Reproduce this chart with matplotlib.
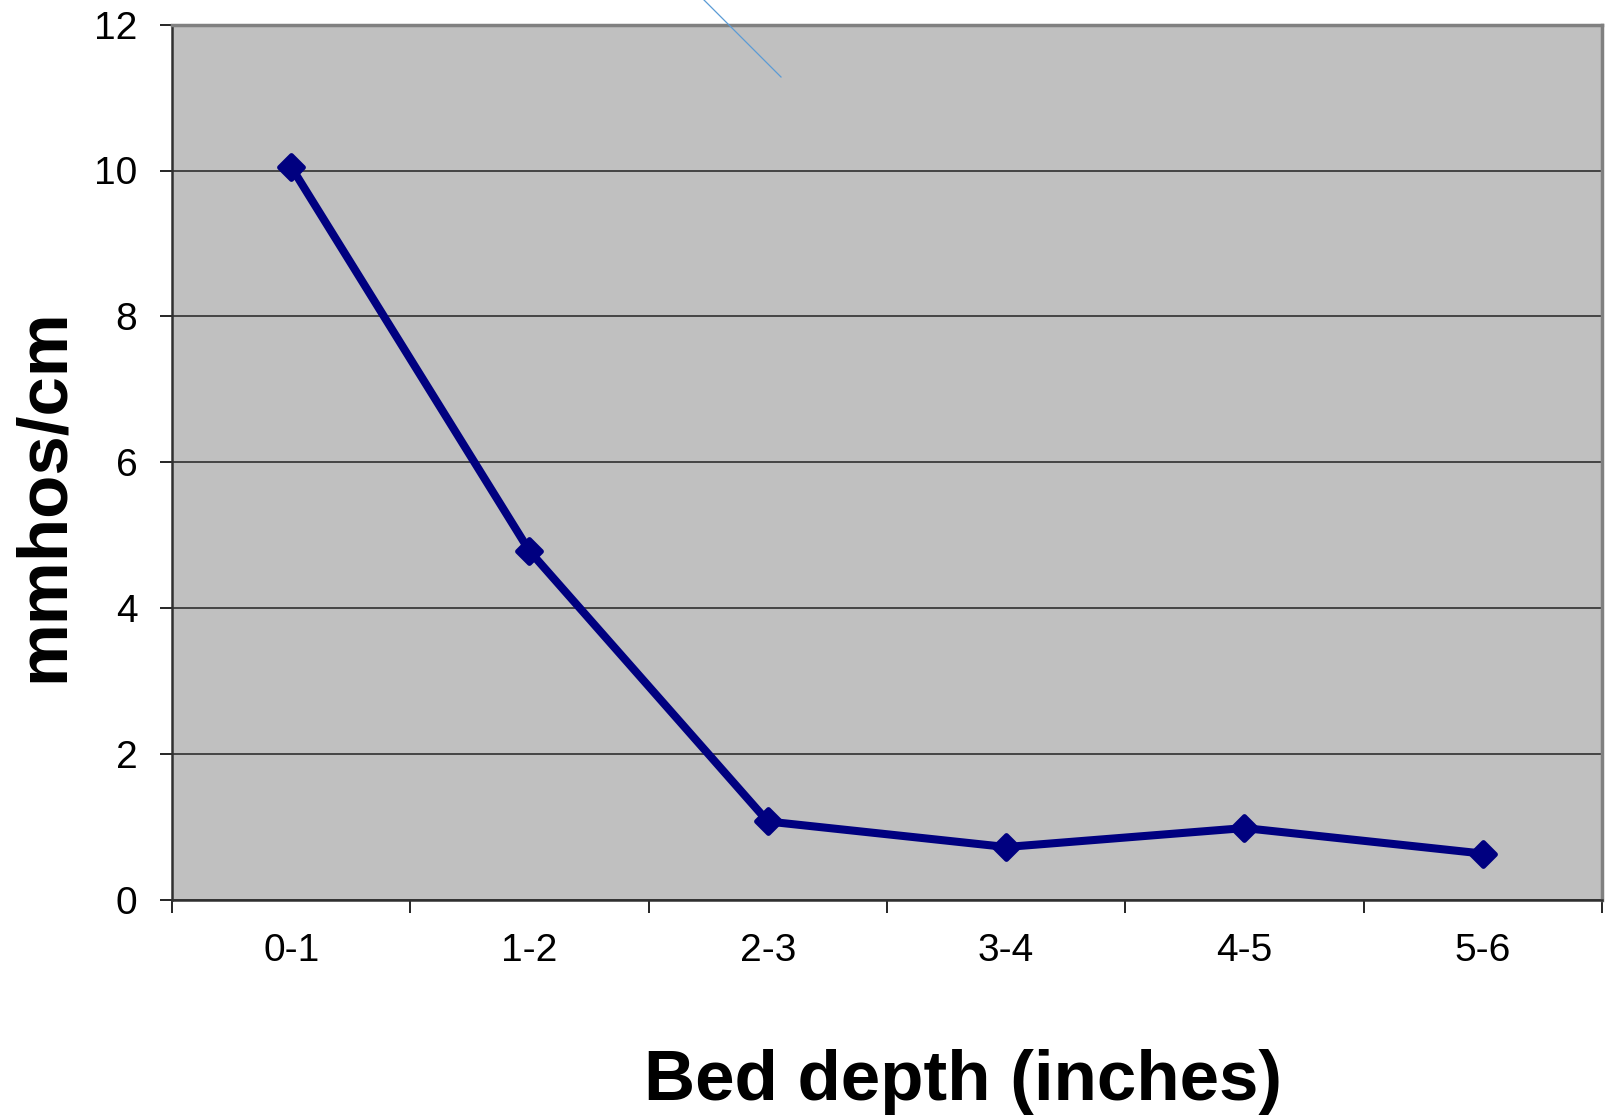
import matplotlib
matplotlib.use("Agg")
import matplotlib.pyplot as plt
from matplotlib.lines import Line2D
from matplotlib.markers import MarkerStyle
import numpy as np

# Conductivity by bed depth layer
depth_bins = ["0-1", "1-2", "2-3", "3-4", "4-5", "5-6"]
conductivity = [10.05, 4.78, 1.07, 0.72, 0.98, 0.63]
y_ticks = [0, 2, 4, 6, 8, 10, 12]

plt.rcParams["font.family"] = ["Liberation Sans", "DejaVu Sans"]

W, H = 1608, 1115
fig = plt.figure(figsize=(W / 100, H / 100), dpi=100)
ax = fig.add_axes([172 / W, 1 - 899.5 / H, (1602 - 172) / W, (899.5 - 24.7) / H])
ax.set_facecolor("#C0C0C0")

x = np.arange(len(depth_bins)) + 0.5
ax.set_xlim(0, len(depth_bins))
ax.set_ylim(0, 12)

ax.set_axisbelow(True)
ax.yaxis.grid(True, color="#3a3a3a", linewidth=1.3)

ax.plot(x, conductivity, color="#000080", linewidth=5.8,
        marker=MarkerStyle("D", joinstyle="round"),
        markersize=12.5, markeredgewidth=3.5, markerfacecolor="#000080",
        markeredgecolor="#000080", solid_joinstyle="round",
        solid_capstyle="round", zorder=3)

# Category boundaries carry the ticks, labels sit at the centres
ax.set_xticks(np.arange(len(depth_bins) + 1))
ax.set_xticklabels([])
ax.set_xticks(x, minor=True)
ax.set_xticklabels(depth_bins, minor=True)
ax.tick_params(axis="x", which="major", direction="out", length=9,
               width=1.2, color="black")
ax.tick_params(axis="x", which="minor", length=0, pad=24, labelsize=28)

ax.set_yticks(y_ticks)
ax.tick_params(axis="y", direction="out", length=9, width=1.2,
               color="black", pad=16, labelsize=28)

for side in ("top", "right"):
    ax.spines[side].set_color("#808080")
    ax.spines[side].set_linewidth(2.5)
ax.spines["left"].set_color("#303030")
ax.spines["left"].set_linewidth(1.8)
ax.spines["bottom"].set_color("#303030")
ax.spines["bottom"].set_linewidth(1.8)

fig.text(963 / W, 1 - 1100 / H, "Bed depth (inches)", fontsize=51,
         fontweight="bold", ha="center", va="baseline")
fig.text(45 / W, 1 - 495 / H, "mmhos/cm", fontsize=51, fontweight="bold",
         rotation=90, ha="center", va="center")

# Thin callout stroke near the top edge
fig.add_artist(Line2D([704 / W, 781 / W], [1 - 0 / H, 1 - 77 / H],
                      color="#5B9BD5", linewidth=0.9, zorder=5))

fig.savefig("out.png", dpi=100)
